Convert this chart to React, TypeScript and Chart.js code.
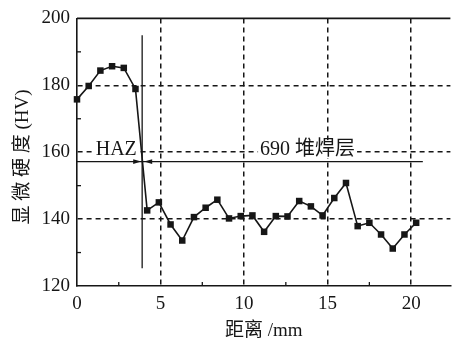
import React, { useEffect, useRef } from "react";
import { Chart, registerables } from "chart.js";

Chart.register(...registerables);

// distance along the weld section (mm)
const distances = [
  0, 0.7, 1.4, 2.1, 2.8, 3.5, 4.2, 4.9, 5.6, 6.3, 7.0, 7.7, 8.4, 9.1, 9.8,
  10.5, 11.2, 11.9, 12.6, 13.3, 14.0, 14.7, 15.4, 16.1, 16.8, 17.5, 18.2, 18.9, 19.6, 20.3,
];
// microhardness (HV)
const hardness = [
  175.8, 179.8, 184.4, 185.7, 185.2, 178.9, 142.6, 145.0, 138.4, 133.6, 140.6, 143.4, 145.8, 140.2, 140.9,
  141.1, 136.2, 140.9, 140.8, 145.4, 143.8, 141.1, 146.3, 150.8, 137.9, 138.9, 135.4, 131.2, 135.4, 138.9,
];

const xTickValues = [0, 5, 10, 15, 20];
const yTickValues = [120, 140, 160, 180, 200];
const xMinorTicks = [2.5, 7.5, 12.5, 17.5];
const yMinorTicks = [130, 150, 170, 190];

const X_MIN = 0;
const X_MAX = 22.35;
const Y_MIN = 120;
const Y_MAX = 200;

// annotation values (data space)
const hazBoundaryX = 3.9;
const hazLineFrom = 125.3;
const hazLineTo = 195;
const arrowLineY = 157.2;
const arrowLineEndX = 20.7;
const hazLabel = { text: "HAZ", x: 2.35, y: 160.6 };
const cladLabel = { text: "690 堆焊层", x: 13.8, y: 160.6 };

const SERIF = "'Liberation Serif', 'Noto Sans CJK SC', serif";
const INK = "#161616";

const annotationPlugin = {
  id: "annotations",
  afterDraw(chart: any) {
    const { ctx, chartArea, scales } = chart;
    const xs = scales.x;
    const ys = scales.y;
    ctx.save();
    ctx.strokeStyle = INK;
    ctx.fillStyle = INK;

    // top frame line
    ctx.lineWidth = 1.6;
    ctx.beginPath();
    ctx.moveTo(chartArea.left, chartArea.top);
    ctx.lineTo(chartArea.right, chartArea.top);
    ctx.stroke();

    // minor ticks
    ctx.lineWidth = 1.3;
    xMinorTicks.forEach((v) => {
      const px = xs.getPixelForValue(v);
      ctx.beginPath();
      ctx.moveTo(px, chartArea.bottom);
      ctx.lineTo(px, chartArea.bottom - 4);
      ctx.stroke();
    });
    yMinorTicks.forEach((v) => {
      const py = ys.getPixelForValue(v);
      ctx.beginPath();
      ctx.moveTo(chartArea.left, py);
      ctx.lineTo(chartArea.left + 4, py);
      ctx.stroke();
    });

    // HAZ boundary vertical line
    const bx = xs.getPixelForValue(hazBoundaryX);
    ctx.lineWidth = 1.3;
    ctx.beginPath();
    ctx.moveTo(bx, ys.getPixelForValue(hazLineFrom));
    ctx.lineTo(bx, ys.getPixelForValue(hazLineTo));
    ctx.stroke();

    // horizontal arrow line
    const ay = ys.getPixelForValue(arrowLineY);
    ctx.beginPath();
    ctx.moveTo(xs.getPixelForValue(X_MIN), ay);
    ctx.lineTo(xs.getPixelForValue(arrowLineEndX), ay);
    ctx.stroke();

    // arrowheads pointing to the boundary
    ctx.beginPath();
    ctx.moveTo(bx - 1, ay);
    ctx.lineTo(bx - 9, ay - 2.4);
    ctx.lineTo(bx - 9, ay + 2.4);
    ctx.closePath();
    ctx.fill();
    ctx.beginPath();
    ctx.moveTo(bx + 2, ay);
    ctx.lineTo(bx + 10, ay - 2.4);
    ctx.lineTo(bx + 10, ay + 2.4);
    ctx.closePath();
    ctx.fill();

    // labels with white backing
    ctx.font = `20px ${SERIF}`;
    ctx.textAlign = "center";
    ctx.textBaseline = "middle";
    [hazLabel, cladLabel].forEach((l) => {
      const px = xs.getPixelForValue(l.x);
      const py = ys.getPixelForValue(l.y);
      const w = ctx.measureText(l.text).width;
      ctx.fillStyle = "#ffffff";
      ctx.fillRect(px - w / 2 - 2, py - 10, w + 4, 18);
      ctx.fillStyle = INK;
      ctx.fillText(l.text, px, py);
    });

    ctx.restore();
  },
};

export default function App() {
  const canvasRef = useRef<HTMLCanvasElement | null>(null);

  useEffect(() => {
    const canvas = canvasRef.current;
    if (!canvas) return;
    const chart = new Chart(canvas, {
      type: "line",
      data: {
        datasets: [
          {
            data: distances.map((d, i) => ({ x: d, y: hardness[i] })),
            borderColor: INK,
            backgroundColor: INK,
            borderWidth: 1.6,
            pointStyle: "rect",
            pointRadius: 4.6,
            pointHoverRadius: 4.6,
            pointBorderWidth: 0,
            tension: 0,
            clip: false,
          } as any,
        ],
      },
      options: {
        animation: false,
        responsive: false,
        devicePixelRatio: 1,
        layout: { padding: { left: 0, right: 0, top: 17, bottom: 0 } },
        plugins: { legend: { display: false }, tooltip: { enabled: false } },
        scales: {
          x: {
            type: "linear",
            min: X_MIN,
            max: X_MAX,
            afterFit: (s: any) => {
              s.height = 52;
            },
            afterBuildTicks: (s: any) => {
              s.ticks = xTickValues.map((v) => ({ value: v }));
            },
            ticks: {
              color: INK,
              font: { family: SERIF, size: 19 },
              padding: 7,
              maxRotation: 0,
              autoSkip: false,
              includeBounds: false,
            },
            grid: {
              drawTicks: false,
              color: (c: any) => (c.tick && c.tick.value > X_MIN ? INK : "rgba(0,0,0,0)"),
              lineWidth: 1.5,
            },
            border: { display: true, color: INK, width: 1.6, dash: [5, 4] },
            title: {
              display: true,
              text: "距离 /mm",
              color: INK,
              font: { family: SERIF, size: 19, lineHeight: 0.75 },
              padding: { top: 0, bottom: 0 },
            },
          },
          y: {
            type: "linear",
            min: Y_MIN,
            max: Y_MAX,
            afterFit: (s: any) => {
              s.width = 77;
            },
            afterBuildTicks: (s: any) => {
              s.ticks = yTickValues.map((v) => ({ value: v }));
            },
            ticks: {
              color: INK,
              font: { family: SERIF, size: 19 },
              padding: 7,
              autoSkip: false,
            },
            grid: {
              drawTicks: false,
              color: (c: any) =>
                c.tick && c.tick.value > Y_MIN && c.tick.value < Y_MAX ? INK : "rgba(0,0,0,0)",
              lineWidth: 1.5,
            },
            border: { display: true, color: INK, width: 1.6, dash: [5, 4] },
            title: {
              display: true,
              text: "显 微 硬 度 (HV)  ",
              color: INK,
              font: { family: SERIF, size: 19 },
              padding: { top: 12, bottom: 0 },
            },
          },
        },
      },
      plugins: [annotationPlugin],
    });
    return () => chart.destroy();
  }, []);

  return (
    <div style={{ position: "absolute", left: 0, top: 0, width: 455, height: 338, background: "#fff" }}>
      <canvas ref={canvasRef} width={455} height={338} style={{ display: "block" }} />
    </div>
  );
}
